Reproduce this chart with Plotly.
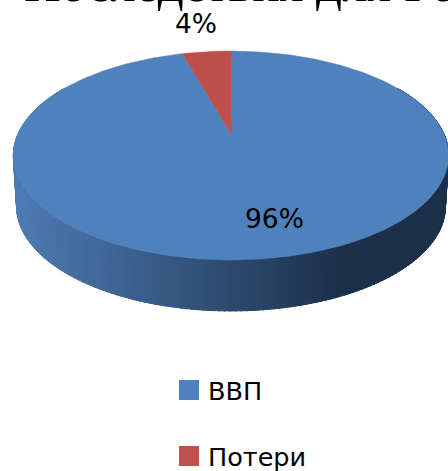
import math
import plotly.graph_objects as go

categories = ["ВВП", "Потери"]
values = [95.6, 4.4]
value_labels = ["96%", "4%"]
title_text = "Последствия для России"
colors = ["#4F81BD", "#BE4F4B"]

W, H = 448, 471
CX, CY = 231, 134
A, B, K = 213, 100, 0.206
DEPTH = 51


def project(theta, shift=0.0, shrink=1.0):
    v = math.cos(theta)
    u = math.sin(theta)
    s = 1 / (1 + K * v)
    return CX + A * u * s * shrink, CY - B * v * s + shift


def mix(c1, c2, t):
    t = max(0.0, min(1.0, t))
    return "rgb(%d,%d,%d)" % tuple(round(a + (b - a) * t) for a, b in zip(c1, c2))


fig = go.Figure()

# Side wall of the disc
light, dark = (0x4C, 0x7A, 0xB2), (0x1C, 0x30, 0x4A)
N = 200
start = math.radians(60)
stop = math.radians(300)
for i in range(N):
    t1 = start + (stop - start) * i / N
    t2 = start + (stop - start) * (i + 1) / N + 0.006
    x1, y1 = project(t1)
    x2, y2 = project(t2)
    x3, y3 = project(t2, DEPTH, 0.985)
    x4, y4 = project(t1, DEPTH, 0.985)
    frac = ((x1 + x2) / 2 - 20) / 320
    col = mix(light, dark, frac)
    fig.add_trace(go.Scatter(
        x=[x1, x2, x3, x4, x1], y=[y1, y2, y3, y4, y1], mode="lines",
        fill="toself", fillcolor=col, line=dict(color=col, width=1),
        hoverinfo="skip", showlegend=False,
    ))

# Top face wedges, clockwise from twelve o'clock
total = sum(values)
cum = 0
for cat, val, col in zip(categories, values, colors):
    a0 = 2 * math.pi * cum / total
    a1 = 2 * math.pi * (cum + val) / total
    n = max(4, int(360 * val / total))
    pts = [project(a0 + (a1 - a0) * j / n) for j in range(n + 1)]
    xs = [CX] + [p[0] for p in pts] + [CX]
    ys = [CY] + [p[1] for p in pts] + [CY]
    fig.add_trace(go.Scatter(
        x=xs, y=ys, mode="lines", fill="toself", fillcolor=col,
        line=dict(color=col, width=0.5), name=cat, hoverinfo="name", showlegend=False,
    ))
    cum += val

# Legend keys and labels
legend_x = [189, 189]
legend_y = [390, 456]
fig.add_trace(go.Scatter(
    x=legend_x, y=legend_y, mode="markers",
    marker=dict(symbol="square", size=20, color=["#4F81BD", "#C0504D"], line=dict(width=0)),
    hoverinfo="skip", showlegend=False,
))
annos = []
for cat, y in zip(categories, legend_y):
    annos.append(dict(x=206, y=y + 1, xref="x", yref="y", text=cat, showarrow=False,
                      xanchor="left", yanchor="middle",
                      font=dict(family="DejaVu Sans", size=25.5, color="#000000")))
for lab, (x, y) in zip(value_labels, [(274, 218), (196, 23)]):
    annos.append(dict(x=x, y=y, xref="x", yref="y", text=lab, showarrow=False,
                      xanchor="center", yanchor="middle",
                      font=dict(family="DejaVu Sans", size=26.5, color="#000000")))
annos.append(dict(x=22, y=1, xref="x", yref="paper", text=title_text, showarrow=False,
                  xanchor="left", yanchor="bottom", yshift=-14.5,
                  font=dict(family="Liberation Serif", size=51, color="#000000")))

fig.update_layout(
    width=W, height=H, margin=dict(l=0, r=0, t=0, b=0),
    paper_bgcolor="#FFFFFF", plot_bgcolor="#FFFFFF",
    xaxis=dict(range=[0, W], visible=False, fixedrange=True),
    yaxis=dict(range=[H, 0], visible=False, fixedrange=True),
    annotations=annos, showlegend=False,
)
fig.write_html("out.html", config={"displayModeBar": False},
               post_script="document.body.style.margin='0';")
